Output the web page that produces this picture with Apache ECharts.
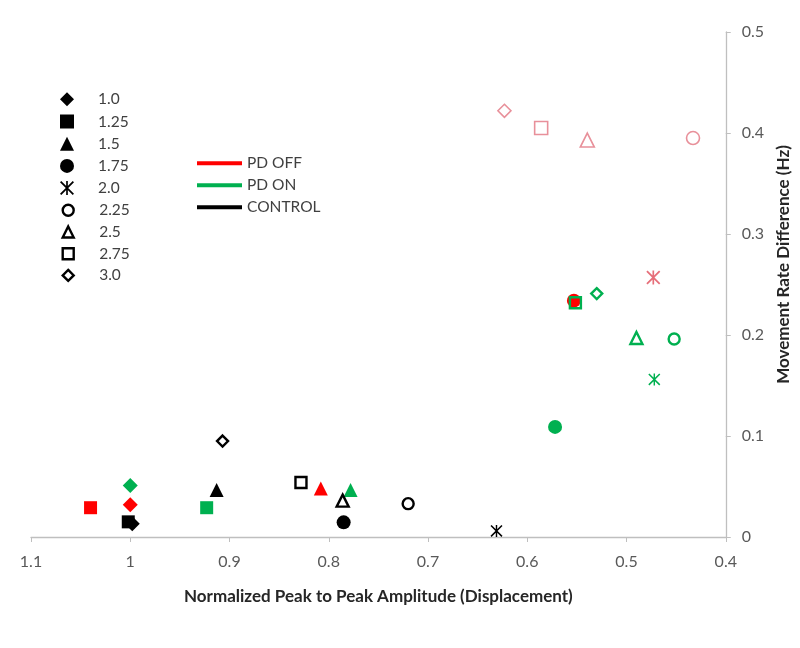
<!DOCTYPE html>
<html>
<head>
<meta charset="utf-8">
<script src="https://cdn.jsdelivr.net/npm/echarts@6/dist/echarts.min.js"></script>
<style>
html,body{margin:0;padding:0;background:#fff;}
#chart{width:800px;height:648px;}
</style>
</head>
<body>
<div id="chart"></div>
<script>
// Stimulus frequencies (legend of marker shapes)
const frequencies = ['1.0', '1.25', '1.5', '1.75', '2.0', '2.25', '2.5', '2.75', '3.0'];
// Group names
const groups = ['PD OFF', 'PD ON', 'CONTROL'];
// Normalized peak-to-peak amplitude (x) and movement rate difference (y), one entry per frequency
const pdOffX = [1.000, 1.040, 0.808, 0.553, 0.473, 0.433, 0.5395, 0.586, 0.623];
const pdOffY = [0.032, 0.029, 0.048, 0.234, 0.257, 0.395, 0.393, 0.405, 0.422];
const pdOnX = [1.000, 0.923, 0.778, 0.572, 0.472, 0.452, 0.490, 0.5515, 0.530];
const pdOnY = [0.051, 0.029, 0.0465, 0.109, 0.156, 0.196, 0.197, 0.232, 0.241];
const controlX = [0.998, 1.002, 0.913, 0.785, 0.631, 0.720, 0.786, 0.828, 0.907];
const controlY = [0.013, 0.015, 0.0465, 0.0145, 0.006, 0.033, 0.036, 0.054, 0.095];
// Axis ticks
const xTicks = [1.1, 1, 0.9, 0.8, 0.7, 0.6, 0.5, 0.4];
const yTicks = [0, 0.1, 0.2, 0.3, 0.4, 0.5];

const ASTERISK = 'path://M4.4,0 L5.6,0 L5.6,10 L4.4,10 Z M0,0.9 L0.9,0 L10,9.1 L9.1,10 Z M9.1,0 L10,0.9 L0.9,10 L0,9.1 Z';
const symbols = ['diamond', 'rect', 'triangle', 'circle', ASTERISK, 'circle', 'triangle', 'rect', 'diamond'];
const hollow = [false, false, false, false, false, true, true, true, true];
const sizes = [15, 13, 14, 14, 12, 11, 12, 11, 11];

const RED = '#ff0000', GREEN = '#00b050', BLACK = '#000000', PINK = '#e8909a', PINK_STAR = '#e66f7a';
const FONT = 'Lato, "Open Sans", sans-serif';

function styleFor(i, color) {
  if (symbols[i] === ASTERISK) return { color: color, borderWidth: 0, opacity: 1 };
  if (hollow[i]) return { color: 'rgba(255,255,255,0)', borderColor: color, borderWidth: color === PINK ? 1.6 : 2.4, opacity: 1 };
  return { color: color, borderWidth: 0, opacity: 1 };
}

const series = frequencies.map((f, i) => {
  const offColor = i >= 4 ? (i === 4 ? PINK_STAR : PINK) : RED;
  return {
    name: f,
    type: 'scatter',
    symbol: symbols[i],
    symbolSize: sizes[i],
    itemStyle: styleFor(i, BLACK),
    emphasis: { disabled: true },
    data: [
      { value: [controlX[i], controlY[i]], itemStyle: styleFor(i, BLACK) },
      { value: [pdOnX[i], pdOnY[i]], itemStyle: styleFor(i, GREEN) },
      { value: [pdOffX[i], pdOffY[i]], itemStyle: styleFor(i, offColor), symbolSize: (i >= 4 ? sizes[i] + 2 : sizes[i]) }
    ]
  };
});
const groupColors = [RED, GREEN, BLACK];
groups.forEach((g, k) => {
  series.push({
    name: g, type: 'line', data: [], symbol: 'none',
    itemStyle: { color: groupColors[k] },
    lineStyle: { color: groupColors[k], width: 4 }
  });
});

const legendText = (pad) => ({ fontSize: 15.5, color: '#404040', fontFamily: FONT, lineHeight: 14, padding: [0, 0, 0, pad] });

const chart = echarts.init(document.getElementById('chart'));
chart.setOption({
  animation: false,
  backgroundColor: '#fff',
  textStyle: { fontFamily: FONT },
  grid: { left: 31, right: 73, top: 32, bottom: 111, containLabel: false },
  xAxis: {
    type: 'value', inverse: true, min: 0.4, max: 1.1, interval: 0.1,
    name: 'Normalized Peak to Peak Amplitude (Displacement)',
    nameLocation: 'middle', nameGap: 51,
    nameTextStyle: { fontFamily: FONT, fontWeight: 'bold', fontSize: 17, color: '#262626' },
    axisLine: { lineStyle: { color: '#bfbfbf', width: 1.3 } },
    axisTick: { show: true, length: 5, lineStyle: { color: '#bfbfbf' } },
    axisLabel: { margin: 17, fontSize: 16, color: '#595959', fontFamily: FONT,
      formatter: v => String(parseFloat(Number(v).toFixed(1))) },
    splitLine: { show: false }
  },
  yAxis: {
    type: 'value', position: 'right', min: 0, max: 0.5, interval: 0.1,
    name: 'Movement Rate Difference (Hz)',
    nameLocation: 'middle', nameGap: 49, nameRotate: 90,
    nameTextStyle: { fontFamily: FONT, fontWeight: 'bold', fontSize: 17, color: '#262626', padding: [0, 0, 0, 40] },
    axisLine: { show: true, lineStyle: { color: '#bfbfbf', width: 1.3 } },
    axisTick: { show: true, length: 5, lineStyle: { color: '#bfbfbf' } },
    axisLabel: { margin: 16, fontSize: 16, color: '#595959', fontFamily: FONT,
      formatter: v => String(parseFloat(Number(v).toFixed(1))) },
    splitLine: { show: false }
  },
  legend: [
    {
      orient: 'vertical', left: 60, top: 91.3, padding: 0,
      itemWidth: 14, itemHeight: 14, itemGap: 6.2,
      selectedMode: false,
      textStyle: legendText(19),
      data: frequencies.slice(0, 5).map((f, i) => ({ name: f, icon: symbols[i], itemStyle: styleFor(i, BLACK) }))
    },
    {
      orient: 'vertical', left: 61.5, top: 202.3, padding: 0,
      itemWidth: 11, itemHeight: 11, itemGap: 5.7,
      selectedMode: false,
      textStyle: legendText(20.5),
      data: frequencies.slice(5).map((f, j) => ({ name: f, icon: symbols[j + 5], itemStyle: styleFor(j + 5, BLACK) }))
    },
    {
      orient: 'vertical', left: 197, top: 155.2, padding: 0,
      itemWidth: 45, itemHeight: 4, itemGap: 6,
      selectedMode: false,
      textStyle: legendText(0),
      data: groups.map((g, k) => ({ name: g, icon: 'rect', itemStyle: { color: groupColors[k] } }))
    }
  ],
  series: series
});
</script>
</body>
</html>
